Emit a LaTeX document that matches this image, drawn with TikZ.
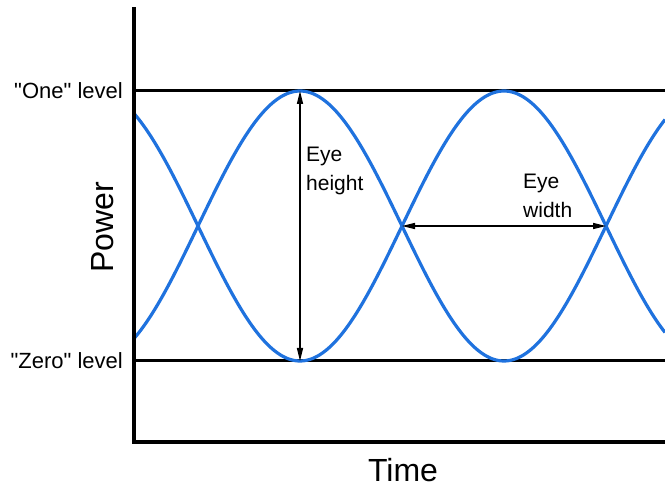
\documentclass[tikz,border=0pt]{standalone}
\usepackage{fontspec}
\setmainfont{Liberation Sans}
\usepackage{xcolor}
\usepackage{tikz}
\usetikzlibrary{arrows.meta,positioning}
\definecolor{eyeBlue}{HTML}{1F72DE}
\definecolor{eyeInk}{HTML}{000000}
\tikzset{
  axisline/.style={draw=eyeInk,line width=4pt,line cap=rect},
  levelline/.style={draw=eyeInk,line width=3pt},
  eyetrace/.style={draw=eyeBlue,line width=3.2pt},
  measure/.style={{Triangle[length=13pt,width=6pt]}-{Triangle[length=13pt,width=6pt]},line width=1.3pt},
  levellabel/.style={anchor=east,inner sep=0pt,font=\fontsize{22}{26}\selectfont},
  eyelabel/.style={anchor=north west,inner sep=0pt,align=left,font=\fontsize{21}{29}\selectfont},
  axislabel/.style={inner sep=0pt,font=\fontsize{32}{37}\selectfont}
}

\begin{document}
\begin{tikzpicture}[x=1pt,y=-1pt]
  \useasboundingbox (0,0) rectangle (665,489);
  % axes and the two levels
  \coordinate (origin) at (134,442);
  \coordinate (ytop) at (134,9);
  \coordinate (xend) at (665,442);
  \coordinate (oneL) at (134,91);
  \coordinate (oneR) at (665,91);
  \coordinate (zeroL) at (134,361);
  \coordinate (zeroR) at (665,361);
  \draw[levelline] (oneL) -- (oneR);
  \draw[levelline] (zeroL) -- (zeroR);
  % eye traces
  \draw[eyetrace] plot[domain=134:665,samples=240] (\x,{226-135*cos((\x-300)/408*360)});
  \draw[eyetrace] plot[domain=134:665,samples=240] (\x,{226+135*cos((\x-300)/408*360)});
  \draw[axisline] (ytop) -- (origin) -- (xend);
  % labels
  \node[levellabel] (onelabel) at (123,91) {\textquotedbl One\textquotedbl{} level};
  \node[levellabel] (zerolabel) at (123,361) {\textquotedbl Zero\textquotedbl{} level};
  \node[axislabel,rotate=90] (power) at (103,227) {Power};
  \node[axislabel] (time) at (403,470) {Time};
  % eye height and eye width
  \coordinate (htop) at (300,91);
  \coordinate (hbot) at (300,361);
  \coordinate (wleft) at (402,226);
  \coordinate (wright) at (606,226);
  \draw[measure] (htop) -- (hbot);
  \draw[measure] (wleft) -- (wright);
  \node[eyelabel] (hlabel) at (306,147) {Eye\\height};
  \node[eyelabel] (wlabel) at (523,174) {Eye\\width};
\end{tikzpicture}
\end{document}
